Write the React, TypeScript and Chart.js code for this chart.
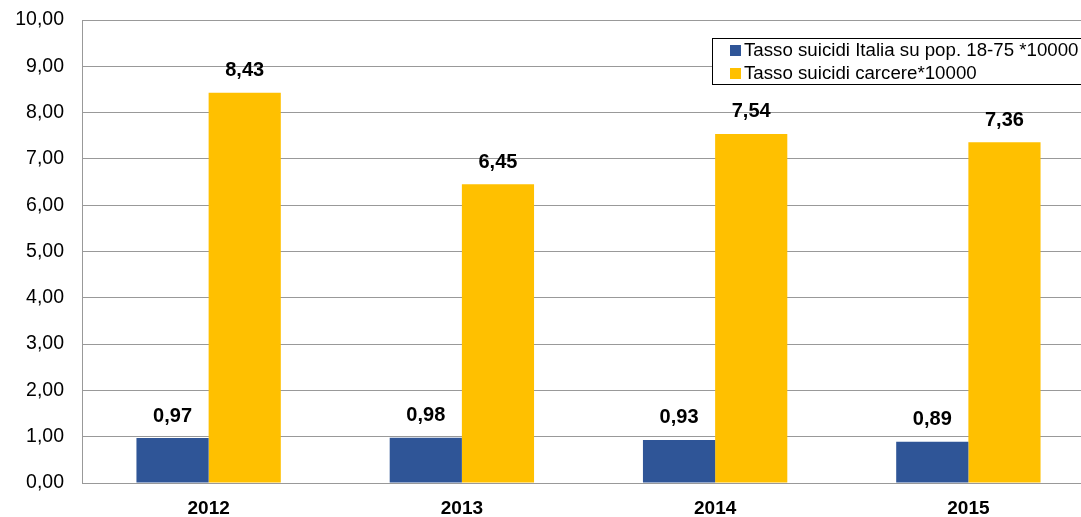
import React, { useEffect, useRef } from "react";
import { Chart, registerables } from "chart.js";

Chart.register(...registerables);

const categories = ["2012", "2013", "2014", "2015"];
const italiaValues = [0.97, 0.98, 0.93, 0.89];
const carcereValues = [8.43, 6.45, 7.54, 7.36];
const seriesLabels = ["Tasso suicidi Italia su pop. 18-75 *10000", "Tasso suicidi carcere*10000"];
const seriesColors = ["#2F5597", "#FFC000"];

const fmt = (v: number) => v.toFixed(2).replace(".", ",");

const dataLabelPlugin = {
  id: "dataLabels",
  afterDatasetsDraw(chart: any) {
    const ctx = chart.ctx;
    ctx.save();
    ctx.font = "bold 20px 'Liberation Sans', Arial, sans-serif";
    ctx.fillStyle = "#000";
    ctx.textAlign = "center";
    ctx.textBaseline = "middle";
    chart.data.datasets.forEach((ds: any, i: number) => {
      const meta = chart.getDatasetMeta(i);
      meta.data.forEach((bar: any, j: number) => {
        ctx.fillText(fmt(ds.data[j]), bar.x, bar.y - 22);
      });
    });
    ctx.restore();
  },
};

const legendBoxPlugin = {
  id: "legendBox",
  afterDraw(chart: any) {
    const ctx = chart.ctx;
    ctx.save();
    const x = 712, y = 38, w = 400, h = 46;
    ctx.fillStyle = "#fff";
    ctx.fillRect(x, y, w, h);
    ctx.strokeStyle = "#000";
    ctx.lineWidth = 1;
    ctx.strokeRect(x + 0.5, y + 0.5, w, h);
    ctx.font = "18.7px 'Liberation Sans', Arial, sans-serif";
    ctx.textBaseline = "middle";
    ctx.textAlign = "left";
    seriesLabels.forEach((lab, i) => {
      const cy = y + 12 + i * 23;
      ctx.fillStyle = seriesColors[i];
      ctx.fillRect(730, cy - 5, 11, 11);
      ctx.fillStyle = "#000";
      ctx.fillText(lab, 744, cy + 1);
    });
    ctx.restore();
  },
};

export default function App() {
  const ref = useRef<HTMLCanvasElement>(null);
  useEffect(() => {
    if (!ref.current) return;
    const chart = new Chart(ref.current, {
      type: "bar",
      data: {
        labels: categories,
        datasets: [
          { label: seriesLabels[0], data: italiaValues, backgroundColor: seriesColors[0], categoryPercentage: 0.57, barPercentage: 1.0 },
          { label: seriesLabels[1], data: carcereValues, backgroundColor: seriesColors[1], categoryPercentage: 0.57, barPercentage: 1.0 },
        ],
      },
      options: {
        responsive: false,
        animation: false,
        layout: { padding: { top: 20, left: 0, right: 0, bottom: 0 } },
        plugins: { legend: { display: false }, tooltip: { enabled: false } },
        scales: {
          x: {
            grid: { display: false, drawTicks: false },
            border: { color: "#999", width: 1 },
            ticks: {
              color: "#000",
              font: { family: "'Liberation Sans', Arial, sans-serif", size: 19, weight: "bold" },
              padding: 14,
            },
            afterFit: (s: any) => { s.height = 34; s.paddingLeft = 0; s.paddingRight = 0; },
          },
          y: {
            min: 0,
            max: 10,
            ticks: {
              stepSize: 1,
              color: "#000",
              font: { family: "'Liberation Sans', Arial, sans-serif", size: 19.5 },
              padding: 18,
              callback: (v: any) => fmt(Number(v)),
            },
            grid: { color: "#999", drawTicks: false },
            border: { color: "#999", width: 1 },
            afterFit: (s: any) => { s.width = 82; s.paddingTop = 0; s.paddingBottom = 0; },
          },
        },
      },
      plugins: [dataLabelPlugin, legendBoxPlugin],
    });
    return () => chart.destroy();
  }, []);
  return (
    <div style={{ position: "fixed", left: 0, top: 0, width: 1081, height: 517, overflow: "hidden", background: "#fff" }}>
      <canvas ref={ref} width={1095} height={517} style={{ display: "block" }} />
    </div>
  );
}
